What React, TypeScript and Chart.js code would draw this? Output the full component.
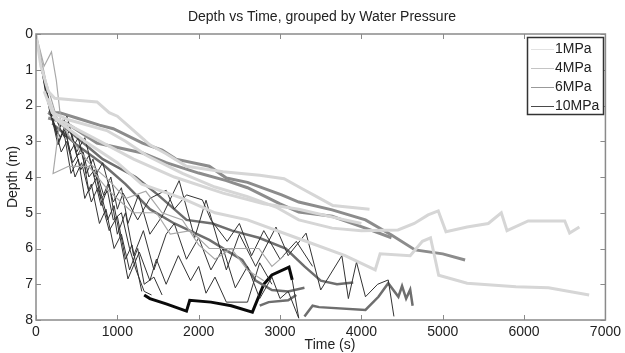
import React, { useEffect, useRef } from "react";
import { Chart, registerables } from "chart.js";
Chart.register(...registerables);

// ---- axis ticks / labels ----
const xTickValues = [0, 1000, 2000, 3000, 4000, 5000, 6000, 7000];
const yTickValues = [0, 1, 2, 3, 4, 5, 6, 7, 8];
const groupNames = ["1MPa", "4MPa", "6MPa", "10MPa"];
const titleText = "Depth vs Time, grouped by Water Pressure";
const xLabel = "Time (s)";
const yLabel = "Depth (m)";

// ---- 1 MPa traces [time s, depth m] ----
const p1a = [[0,0],[60,0.9],[150,1.6],[230,1.8],[500,1.85],[750,1.9],[900,2.2],[1000,2.3],[1100,2.5],[1250,2.8],[1400,3.1],[1600,3.35],[1850,3.7],[2300,3.85],[2750,3.95],[3050,4.05],[3250,4.3],[3450,4.55],[3650,4.8],[4100,4.9]];
const p1b = [[100,1.6],[200,2.2],[400,2.4],[870,2.7],[1100,3.0],[1360,3.4],[1800,3.9],[2200,4.28],[2600,4.55],[2950,4.84],[3230,5.2],[3640,5.43],[4000,5.5],[4450,5.48],[4650,5.3],[4820,5.06],[4945,4.95],[5040,5.53],[5300,5.4],[5560,5.3],[5720,5.0],[5790,5.5],[6050,5.23],[6500,5.23],[6560,5.57],[6680,5.4]];
const p1c = [[150,1.8],[250,2.4],[600,3.0],[1000,3.6],[1300,4.2],[1800,4.6],[2200,5.0],[2600,5.2],[3200,5.7],[3800,6.2],[4170,6.6],[4230,6.15],[4600,6.2],[4750,5.8],[4850,5.7],[4950,6.75],[5300,6.97],[5900,7.07],[6300,7.1],[6800,7.3]];
const p1d = [[200,2.3],[700,2.9],[1200,3.5],[1700,4.0],[2300,4.45],[2800,4.75],[3230,4.9],[3700,5.15],[4000,5.3]];

// ---- 4 MPa traces ----
const p4a = [[0,0],[100,0.9],[190,0.5],[250,1.3],[300,2.3],[210,3.9],[400,3.7],[650,3.7],[900,4.4],[1190,5.0],[1480,5.0],[1650,5.6],[1900,5.5],[2130,6.0],[2740,6.0],[2900,6.5],[3050,6.2]];
const p4b = [[0,0],[120,1.3],[250,2.3],[450,3.0],[650,3.6],[900,4.1],[1100,4.6],[1350,4.4],[1550,5.0],[1800,5.2],[2000,5.9],[2200,6.3],[2400,6.0],[2600,6.6],[2800,6.9]];

// ---- 6 MPa traces ----
const p6a = [[150,2.2],[290,2.2],[500,2.35],[780,2.55],[950,2.65],[1310,3.05],[1550,3.25],[1720,3.5],[2130,3.7],[2340,4.03],[2600,4.15],[3020,4.5],[3230,4.7],[3640,4.92],[4050,5.2],[4370,5.62],[4660,6.04],[5000,6.15],[5275,6.32]];
const p6b = [[150,2.35],[380,2.5],[750,3.05],[1310,3.33],[1600,3.6],[2000,3.89],[2340,4.1],[2600,4.3],[3000,4.75],[3230,4.98],[3640,5.1],[4050,5.43],[4370,5.7]];
const p6c = [[150,2.2],[400,2.7],[820,3.5],[1225,4.0],[1500,4.5],[1850,5.2],[2170,5.3],[2410,5.5],[2740,5.7],[3070,6.0],[3300,6.5],[3500,6.9],[3700,7.0],[3900,6.95]];
const p6d = [[200,2.5],[500,3.1],[800,3.6],[1100,4.2],[1400,4.9],[1700,5.3],[2130,5.76],[2375,6.1],[2535,6.32],[2700,6.9],[2900,7.16],[3100,7.2],[3300,7.1]];
const p6e = [[3300,7.9],[3400,7.6],[3480,7.64],[4050,7.72],[4210,7.35],[4330,6.97],[4455,7.35],[4500,7.05],[4550,7.4],[4600,7.15],[4630,7.6]];
const p6f = [[2750,7.6],[2860,7.5],[3100,7.45],[3200,7.3]];

// ---- 10 MPa traces ----
const p10a = [[0,0],[50,0.8],[150,1.9],[250,2.4],[350,2.9],[420,2.7],[500,3.4],[580,3.3],[650,4.0],[720,3.8],[800,4.6],[880,4.4],[950,5.2],[1050,5.0],[1150,6.0],[1230,6.6],[1330,7.2],[1420,7.3]];
const p10b = [[1330,7.3],[1400,7.4],[1600,7.55],[1850,7.75],[1890,7.45],[2150,7.5],[2400,7.6],[2660,7.78],[2800,7.0],[2900,6.74],[3110,6.52],[3150,6.88]];
const p10c = [[3150,6.88],[3230,7.95]];
const p10d = [[0,0],[80,1.0],[180,2.1],[300,2.6],[380,2.3],[500,3.3],[600,2.9],[720,4.0],[820,3.6],[950,4.7],[1050,4.3],[1130,5.3],[1260,4.5],[1400,5.6],[1550,5.1],[1760,4.1],[1950,5.7],[2090,4.65],[2340,6.6],[2500,5.6],[2700,6.5],[2950,5.4],[3100,6.2],[3320,5.57],[3500,7.16],[3760,6.2],[3840,7.4],[3940,6.38],[4050,7.35],[4200,7.0],[4330,6.88],[4400,7.9]];
const p10e = [[0,0],[60,0.7],[170,2.2],[280,3.0],[350,2.6],[450,3.6],[560,3.2],[650,4.4],[750,4.0],[880,5.2],[960,4.8],[1130,6.85],[1270,6.1],[1400,6.9],[1480,6.3],[1600,7.0],[1750,6.2],[1900,6.9],[2000,6.5],[2090,7.25],[2200,6.8],[2340,7.5],[2600,7.5],[2750,6.4],[2900,7.0]];
const p10f = [[0,0],[100,1.2],[200,2.4],[300,2.9],[400,2.5],[550,3.8],[650,3.4],[800,4.8],[900,4.2],[1000,5.6],[1100,5.0],[1200,6.2],[1320,5.5],[1450,6.6],[1600,5.6],[1700,5.3],[1850,6.3],[2000,5.7],[2150,6.6],[2300,6.0],[2450,7.1],[2600,6.5],[2750,7.4],[2900,6.8],[3000,7.4],[3100,7.2],[3230,7.95]];
const p10g = [[0,0],[70,0.9],[160,2.0],[260,2.8],[330,2.4],[420,3.3],[520,2.9],[620,3.9],[700,3.5],[830,4.5],[920,4.0],[1000,4.9],[1070,4.45],[1250,5.2],[1400,4.6],[1600,4.37],[1700,4.9],[1850,4.5],[2045,4.64],[2150,5.2],[2350,5.8],[2500,5.3],[2650,6.2],[2800,5.5],[3000,6.3],[3200,5.8],[3400,6.5]];
const p10h = [[0,0],[90,1.1],[190,2.3],[270,3.1],[340,2.7],[430,3.9],[520,3.5],[600,4.6],[680,4.2],[780,5.3],[860,4.9],[960,6.0],[1050,5.6],[1150,6.6],[1250,6.0],[1330,7.0],[1450,6.8],[1550,7.3]];
const p10i = [[0,0],[40,0.6],[130,1.8],[220,2.5],[310,3.3],[380,3.0],[480,4.0],[560,3.6],[680,4.7],[760,4.3],[900,5.5],[1000,5.1],[1100,6.3],[1180,5.9],[1300,7.2]];

// trace table: data, group index, style key
const traceTable = [
  { data: p1a, group: 0, style: "thick1" },
  { data: p1b, group: 0, style: "thick1" },
  { data: p1c, group: 0, style: "thick1" },
  { data: p1d, group: 0, style: "thick1" },
  { data: p4a, group: 1, style: "thin4" },
  { data: p4b, group: 1, style: "thin4" },
  { data: p10d, group: 3, style: "thin10" },
  { data: p10e, group: 3, style: "thin10" },
  { data: p10f, group: 3, style: "thin10" },
  { data: p10g, group: 3, style: "thin10" },
  { data: p10h, group: 3, style: "thin10" },
  { data: p10i, group: 3, style: "thin10" },
  { data: p10a, group: 3, style: "thin10" },
  { data: p10c, group: 3, style: "thin10" },
  { data: p6a, group: 2, style: "thick6" },
  { data: p6b, group: 2, style: "thick6" },
  { data: p6c, group: 2, style: "dark6" },
  { data: p6d, group: 2, style: "dark6" },
  { data: p6e, group: 2, style: "dark6" },
  { data: p6f, group: 2, style: "dark6" },
  { data: p10b, group: 3, style: "black10" },
];

const styles: Record<string, { color: string; width: number }> = {
  thick1: { color: "#d6d6d6", width: 3 },
  thin4: { color: "#a8a8a8", width: 1.2 },
  thick6: { color: "#8c8c8c", width: 3 },
  dark6: { color: "#6e6e6e", width: 2.5 },
  thin10: { color: "#333333", width: 1 },
  black10: { color: "#0a0a0a", width: 3 },
};
const legendColors = ["#e2e2e2", "#c4c4c4", "#999999", "#4a4a4a"];

const FONT = "'Liberation Sans', Arial, sans-serif";

export default function App() {
  const ref = useRef<HTMLCanvasElement | null>(null);
  useEffect(() => {
    if (!ref.current) return;
    const datasets = traceTable.map((t, i) => ({
      label: groupNames[t.group] + "_" + i,
      data: t.data.map(([x, y]) => ({ x, y })),
      borderColor: styles[t.style].color,
      borderWidth: styles[t.style].width,
      pointRadius: 0,
      tension: 0,
      fill: false,
    }));

    const frame = {
      id: "frame",
      afterDatasetsDraw(chart: any) {
        const { ctx, chartArea: a, scales } = chart;
        ctx.save();
        ctx.strokeStyle = "#8a8a8a";
        ctx.lineWidth = 1.5;
        ctx.strokeRect(a.left, a.top, a.right - a.left, a.bottom - a.top);
        ctx.lineWidth = 1;
        ctx.beginPath();
        xTickValues.forEach((v) => {
          const px = Math.round(scales.x.getPixelForValue(v)) + 0.5;
          ctx.moveTo(px, a.bottom); ctx.lineTo(px, a.bottom - 5);
          ctx.moveTo(px, a.top); ctx.lineTo(px, a.top + 5);
        });
        yTickValues.forEach((v) => {
          const py = Math.round(scales.y.getPixelForValue(v)) + 0.5;
          ctx.moveTo(a.left, py); ctx.lineTo(a.left + 5, py);
          ctx.moveTo(a.right, py); ctx.lineTo(a.right - 5, py);
        });
        ctx.stroke();

        // legend
        const lx = 527.5, ly = 37.5, lw = 76, lh = 77;
        ctx.fillStyle = "#ffffff";
        ctx.fillRect(lx, ly, lw, lh);
        ctx.strokeStyle = "#333333";
        ctx.lineWidth = 1.5;
        ctx.strokeRect(lx, ly, lw, lh);
        ctx.font = "14px " + FONT;
        ctx.textBaseline = "middle";
        ctx.textAlign = "left";
        groupNames.forEach((g, i) => {
          const y = 49 + i * 19;
          ctx.strokeStyle = legendColors[i];
          ctx.lineWidth = 1;
          ctx.beginPath();
          ctx.moveTo(531, y + 0.5);
          ctx.lineTo(554, y + 0.5);
          ctx.stroke();
          ctx.fillStyle = "#222222";
          ctx.fillText(g, 555, y);
        });
        ctx.restore();
      },
      afterDraw(chart: any) {
        const { ctx } = chart;
        ctx.save();
        ctx.fillStyle = "#222222";
        ctx.font = "14px " + FONT;
        ctx.textAlign = "center";
        ctx.textBaseline = "middle";
        ctx.fillText(titleText, 322, 17);
        ctx.fillText(xLabel, 330, 345);
        ctx.translate(13, 177);
        ctx.rotate(-Math.PI / 2);
        ctx.fillText(yLabel, 0, 0);
        ctx.restore();
      },
    };

    const chart = new Chart(ref.current, {
      type: "line",
      data: { datasets },
      options: {
        animation: false,
        responsive: false,
        parsing: true,
        layout: { padding: { left: 0, right: 17, top: 34, bottom: 0 } },
        plugins: {
          legend: { display: false },
          title: { display: false },
          tooltip: { enabled: false },
        },
        scales: {
          x: {
            type: "linear",
            min: 0,
            max: 7000,
            afterFit: (s: any) => { s.height = 33; },
            afterBuildTicks: (s: any) => { s.ticks = xTickValues.map((v) => ({ value: v })); },
            ticks: { color: "#222222", font: { family: FONT, size: 14 }, padding: 4, maxRotation: 0, autoSkip: false, callback: (v: any) => String(v) },
            grid: { display: false, drawTicks: false },
            border: { display: false },
          },
          y: {
            type: "linear",
            reverse: true,
            min: 0,
            max: 8,
            afterFit: (s: any) => { s.width = 36; },
            afterBuildTicks: (s: any) => { s.ticks = yTickValues.map((v) => ({ value: v })); },
            ticks: { color: "#222222", font: { family: FONT, size: 14 }, padding: 3, autoSkip: false, callback: (v: any) => String(v) },
            grid: { display: false, drawTicks: false },
            border: { display: false },
          },
        },
      },
      plugins: [frame],
    } as any);
    return () => chart.destroy();
  }, []);

  return (
    <div style={{ position: "absolute", left: 0, top: 0, width: 625, height: 353, background: "#fff" }}>
      <canvas ref={ref} width={625} height={353} />
    </div>
  );
}
